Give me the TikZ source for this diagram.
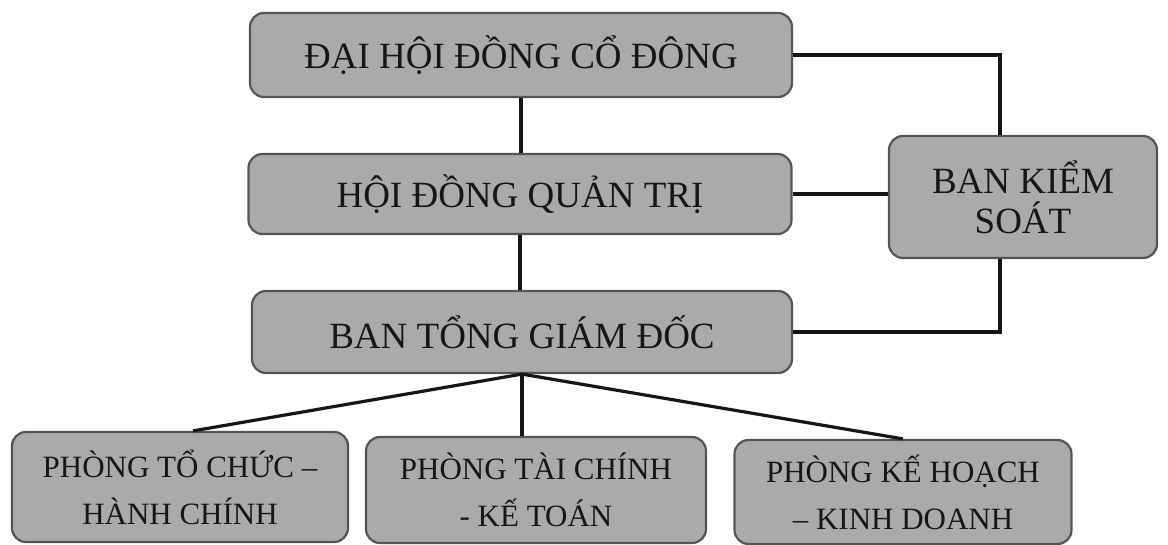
\documentclass[tikz,border=0pt]{standalone}
\usepackage{fontspec}
\setmainfont{Liberation Serif}
\usetikzlibrary{calc}
\definecolor{boxfill}{RGB}{170,170,170}
\definecolor{boxline}{RGB}{85,85,85}
\definecolor{ink}{RGB}{22,22,22}
\begin{document}
\begin{tikzpicture}[x=0.5pt,y=-0.5pt,
  box/.style={draw=boxline, line width=1.1pt, fill=boxfill, rounded corners=7pt, inner sep=0pt, align=center, text=ink},
  big/.style={box, font=\fontsize{18.5}{20}\selectfont},
  small/.style={box, font=\fontsize{15.5}{23.5}\selectfont},
  link/.style={line width=1.6pt, ink}]
\useasboundingbox (0,0) rectangle (1168,545);
\fill[white] (0,0) rectangle (1168,545);
\node[big, minimum width=271pt, minimum height=42pt] (A) at (521,55) {ĐẠI HỘI ĐỒNG CỔ ĐÔNG};
\node[big, minimum width=271.5pt, minimum height=40pt] (B) at (520,194) {HỘI ĐỒNG QUẢN TRỊ};
\node[big, minimum width=134pt, minimum height=61pt] (K) at (1023,197) {BAN KIỂM\\SOÁT};
\node[big, minimum width=270pt, minimum height=41pt] (C) at (522,332) {BAN TỔNG GIÁM ĐỐC};
\node[small, minimum width=168pt, minimum height=55pt] (D) at (180,487) {PHÒNG TỔ CHỨC –\\HÀNH CHÍNH};
\node[small, minimum width=170pt, minimum height=53pt] (E) at (536,490) {PHÒNG TÀI CHÍNH\\- KẾ TOÁN};
\node[small, minimum width=168.5pt, minimum height=52pt] (F) at (903,492) {PHÒNG KẾ HOẠCH\\– KINH DOANH};
\draw[link] (A.east) -| ($(K.north)+(-23,0)$);
\draw[link] (B.east) -- (B.east -| K.west);
\draw[link] ($(K.south)+(-23,0)$) |- (C.east);
\draw[link] (A.south) -- (A.south |- B.north);
\draw[link] (B.south) -- (B.south |- C.north);
\draw[link] (C.south) -- ($(D.north)+(13,0)$);
\draw[link] (C.south) -- (C.south |- E.north);
\draw[link] (C.south) -- (F.north);
\end{tikzpicture}
\end{document}
